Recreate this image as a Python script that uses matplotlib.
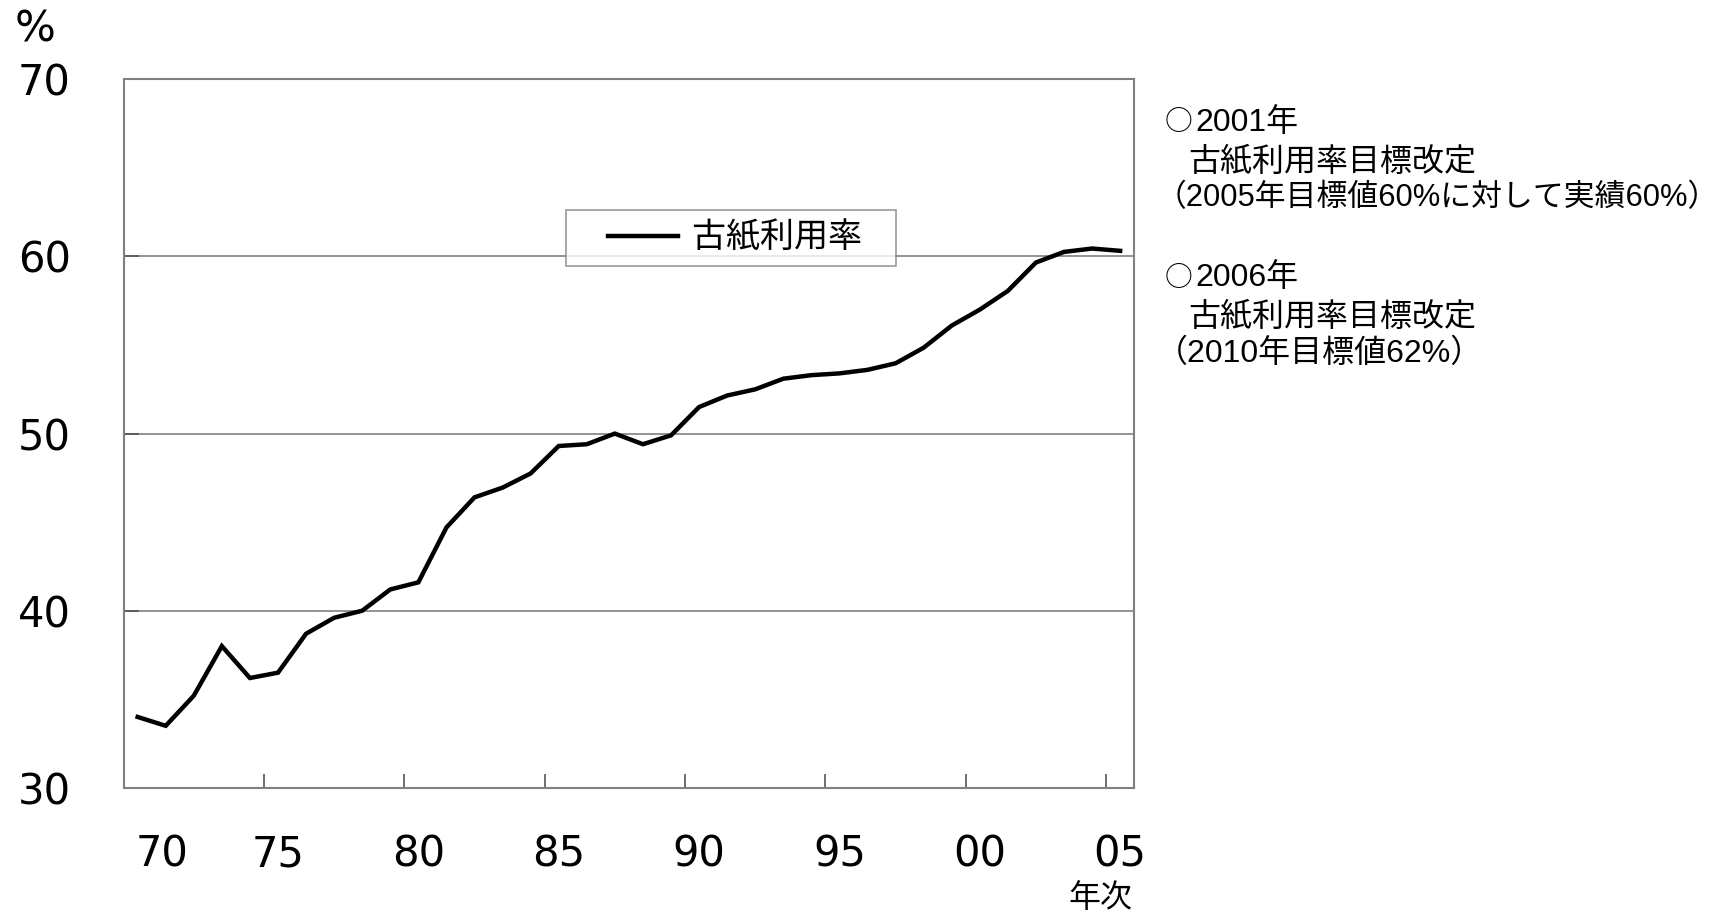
import numpy as np
import matplotlib
matplotlib.use("Agg")
import matplotlib.pyplot as plt
from matplotlib.transforms import ScaledTranslation
from matplotlib.legend_handler import HandlerLine2D

plt.rcParams['font.family'] = ['DejaVu Sans', 'Noto Sans CJK JP']
JP = ['Noto Sans CJK JP', 'DejaVu Sans']
NOTE_FONT = ['Liberation Sans', 'Noto Sans CJK JP']

# 古紙利用率 (%), 1970-2005
years = list(range(1970, 2006))
rate = [34.0, 33.5, 35.2, 38.0, 36.2, 36.5, 38.7, 39.6, 40.0, 41.2,
        41.6, 44.7, 46.4, 46.95, 47.75, 49.3, 49.4, 50.0, 49.4, 49.9,
        51.5, 52.15, 52.5, 53.1, 53.3, 53.4, 53.6, 53.97, 54.85, 56.1,
        57.0, 58.06, 59.66, 60.26, 60.45, 60.32]
xtick_years = [1970, 1975, 1980, 1985, 1990, 1995, 2000, 2005]
xtick_labels = ["70", "75", "80", "85", "90", "95", "00", "05"]
yticks = [30, 40, 50, 60, 70]
note_heads = ["2001年", "2006年"]
note_lines = ["古紙利用率目標改定", "（2005年目標値60%に対して実績60%）",
              "古紙利用率目標改定", "（2010年目標値62%）"]

W, H = 1730, 914
fig = plt.figure(figsize=(W / 100, H / 100), dpi=100)
ax = fig.add_axes([123.6 / W, 1 - 787.8 / H, 1010.6 / W, 708.4 / H])

ax.plot(years, rate, color='black', lw=3.2, label="古紙利用率   ",
        solid_joinstyle='miter')

ax.set_xlim(1969.5, 2005.5)
ax.set_ylim(30, 70)
ax.set_yticks(yticks)
ax.set_xticks(xtick_years)
ax.set_xticklabels(xtick_labels)
ax.set_xticks(np.arange(1974.5, 2005, 5), minor=True)

ax.tick_params(axis='x', which='major', length=0, pad=33, labelsize=30)
ax.tick_params(axis='x', which='minor', direction='in', length=10,
               width=1.2, color='#555555')
ax.tick_params(axis='y', direction='in', length=11, width=1.2,
               color='#555555', pad=38, labelsize=30)
for lab in ax.get_xticklabels() + ax.get_yticklabels():
    lab.set_family('DejaVu Sans')

# 70 のラベルは少し右寄せ
lab0 = ax.get_xticklabels()[0]
lab0.set_transform(lab0.get_transform() + ScaledTranslation(0.24, 0, fig.dpi_scale_trans))

ax.yaxis.grid(True, color='#808080', lw=1.2)
ax.set_axisbelow(True)
for s in ax.spines.values():
    s.set_color('#808080')
    s.set_linewidth(1.5)

leg = ax.legend(loc='upper left', bbox_to_anchor=(0.4378, 0.8157),
                prop={'family': JP, 'size': 24.5}, frameon=True, fancybox=False,
                edgecolor='#808080', handlelength=2.99, borderpad=0.31,
                handletextpad=0.41, borderaxespad=0,
                handler_map={plt.Line2D: HandlerLine2D(xpad=0.93)})
leg.get_frame().set_linewidth(1.2)

fig.text(15 / W, 1 - 30 / H, "%", fontsize=31, family='DejaVu Sans',
         va='center', ha='left')
fig.text(1100 / W, 1 - 907 / H, "年次", family=JP, fontsize=23,
         va='baseline', ha='center')

# 右側の注記
head_base = [131, 286.5]
for txt, yb in zip(note_heads, head_base):
    fig.text(1165 / W, 1 - (yb - 1) / H, "○", family=JP, fontsize=20,
             va='baseline', ha='left')
    fig.text(1195 / W, 1 - yb / H, txt, family=NOTE_FONT, fontsize=23,
             va='baseline', ha='left')
line_pos = [(1188, 171, 23), (1156, 206.5, 22.2),
            (1188, 326, 23), (1156, 361.5, 23)]
for txt, (x, yb, fs) in zip(note_lines, line_pos):
    fig.text(x / W, 1 - yb / H, txt, family=NOTE_FONT, fontsize=fs,
             va='baseline', ha='left')

fig.savefig("out.png", dpi=100)
